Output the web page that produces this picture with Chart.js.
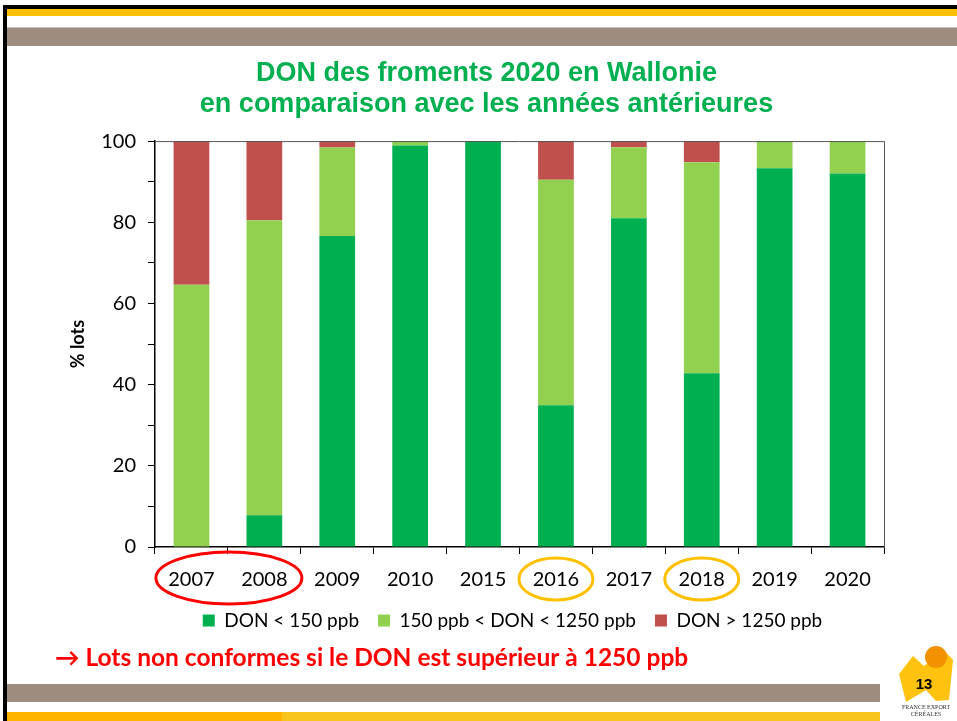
<!DOCTYPE html>
<html>
<head>
<meta charset="utf-8">
<title>DON des froments 2020 en Wallonie</title>
<script src="https://cdn.jsdelivr.net/npm/chart.js@4"></script>
<style>
  body { margin: 0; background: #fff; }
  #wrap { width: 957px; height: 721px; }
</style>
</head>
<body>
<div id="wrap"><canvas id="DonChart" width="957" height="721"></canvas></div>
<script>
// data
const years = ['2007', '2008', '2009', '2010', '2015', '2016', '2017', '2018', '2019', '2020'];
const donLow = [0, 7.8, 76.6, 98.9, 100, 34.9, 81.0, 42.8, 93.3, 92.0];
const donMid = [64.6, 72.7, 21.8, 1.1, 0, 55.6, 17.5, 52.0, 6.7, 8.0];
const donHigh = [35.4, 19.5, 1.6, 0, 0, 9.5, 1.5, 5.2, 0, 0];
const yTicks = [0, 20, 40, 60, 80, 100];

// slide decoration (bands, ellipses, footer text, logo)
const slidePlugin = {
  id: 'slide',
  afterLayout(chart) {
    // title and legend are not centred on the plot in the original slide
    const t = chart.titleBlock;
    t.left += 17; t.right += 17;
    const l = chart.legend;
    l.left += 43; l.right += 43;
  },
  beforeDraw(chart) {
    const c = chart.ctx;
    c.save();
    c.fillStyle = '#fff';
    c.fillRect(0, 0, chart.width, chart.height);
    // top
    c.fillStyle = '#000';
    c.fillRect(3, 5, 954, 4);
    c.fillRect(3, 5, 4, 716);
    c.fillStyle = '#FFC000';
    c.fillRect(7, 9, 950, 7);
    c.fillStyle = '#bfbfbf';
    c.fillRect(7, 27, 950, 1);
    c.fillStyle = '#9E8C80';
    c.fillRect(7, 28, 950, 18);
    // bottom
    c.fillRect(7, 684, 873, 18);
    c.fillStyle = '#FFB400';
    c.fillRect(7, 712, 275, 9);
    c.fillStyle = '#F7C51E';
    c.fillRect(282, 712, 598, 9);
    c.restore();
  },
  afterDraw(chart) {
    const c = chart.ctx;
    const a = chart.chartArea;
    const x = chart.scales.x;
    c.save();
    // top and right frame of the plot
    c.strokeStyle = '#555';
    c.lineWidth = 1;
    c.beginPath();
    c.moveTo(a.left, a.top + 0.5);
    c.lineTo(a.right + 0.5, a.top + 0.5);
    c.lineTo(a.right + 0.5, a.bottom);
    c.stroke();

    // circled years
    const yc = a.bottom + 31;
    c.lineWidth = 3;
    c.strokeStyle = '#FF0000';
    c.beginPath();
    c.ellipse((x.getPixelForTick(0) + x.getPixelForTick(1)) / 2 + 1, yc, 73, 26, 0, 0, Math.PI * 2);
    c.stroke();
    c.strokeStyle = '#FFC000';
    [5, 7].forEach(function(i) {
      c.beginPath();
      c.ellipse(x.getPixelForTick(i), yc + 1, 37, 21, 0, 0, Math.PI * 2);
      c.stroke();
    });

    // footer note
    c.fillStyle = '#FF0000';
    c.font = 'bold 24.5px Lato';
    c.textBaseline = 'alphabetic';
    c.fillText('\u2192 Lots non conformes si le DON est supérieur à 1250 ppb', 55, 666);

    // logo
    c.fillStyle = '#FFC20E';
    c.beginPath();
    c.moveTo(899, 674);
    c.lineTo(913, 656);
    c.lineTo(924, 666);
    c.lineTo(944, 650);
    c.lineTo(953, 660);
    c.lineTo(949, 700);
    c.lineTo(936, 701);
    c.lineTo(926, 690);
    c.lineTo(906, 702);
    c.closePath();
    c.fill();
    c.fillStyle = '#F39200';
    c.beginPath();
    c.arc(936, 657, 11, 0, Math.PI * 2);
    c.fill();
    c.fillStyle = '#000';
    c.font = 'bold 15px "Liberation Sans"';
    c.textAlign = 'center';
    c.fillText('13', 924, 689);
    c.fillStyle = '#333';
    c.font = '6px "Liberation Serif"';
    c.fillText('FRANCE EXPORT', 926, 709);
    c.fillText('CÉRÉALES', 926, 716);
    c.restore();
  }
};

const ctx = document.getElementById('DonChart');

new Chart(ctx, {
  type: 'bar',
  data: {
    labels: years,
    datasets: [{
      label: 'DON < 150 ppb',
      data: donLow,
      backgroundColor: '#00B050',
    }, {
      label: '150 ppb < DON < 1250 ppb',
      data: donMid,
      backgroundColor: '#92D050',
    }, {
      label: 'DON > 1250 ppb',
      data: donHigh,
      backgroundColor: '#C0504D',
    }]
  },
  options: {
    responsive: false,
    animation: false,
    barPercentage: 0.49,
    categoryPercentage: 1,
    layout: {
      padding: { top: 50, left: 55, right: 73, bottom: 81 }
    },
    plugins: {
      title: {
        display: true,
        text: ['DON des froments 2020 en Wallonie', 'en comparaison avec les années antérieures'],
        color: '#00B050',
        font: { family: 'Liberation Sans', size: 27, weight: 'bold', lineHeight: 1.15 },
        padding: { top: 8, bottom: 21 }
      },
      legend: {
        position: 'bottom',
        labels: {
          color: '#000',
          font: { family: 'Lato', size: 19 },
          boxWidth: 12,
          boxHeight: 12,
          padding: 19
        }
      },
      tooltip: { enabled: false }
    },
    scales: {
      x: {
        stacked: true,
        afterFit: function(scale) { scale.height = 45; },
        grid: { drawOnChartArea: false, tickLength: 7, color: '#000' },
        border: { color: '#000', width: 1.5 },
        ticks: { color: '#000', font: { family: 'Lato', size: 20 }, padding: 14, maxRotation: 0 }
      },
      y: {
        stacked: true,
        min: 0,
        max: 100,
        afterFit: function(scale) { scale.width = 100; },
        grid: { drawOnChartArea: false, tickLength: 7, color: '#000' },
        border: { color: '#000', width: 1.5 },
        ticks: {
          stepSize: 10,
          autoSkip: false,
          color: '#000',
          padding: 12,
          font: { family: 'Lato', size: 20 },
          callback: function(v) { return yTicks.includes(v) ? v : ''; }
        },
        title: {
          display: true,
          text: '% lots',
          color: '#000',
          font: { family: 'Lato', size: 18, weight: 'bold' },
          padding: { top: 12, bottom: 0 }
        }
      }
    }
  },
  plugins: [slidePlugin]
});
</script>
</body>
</html>
